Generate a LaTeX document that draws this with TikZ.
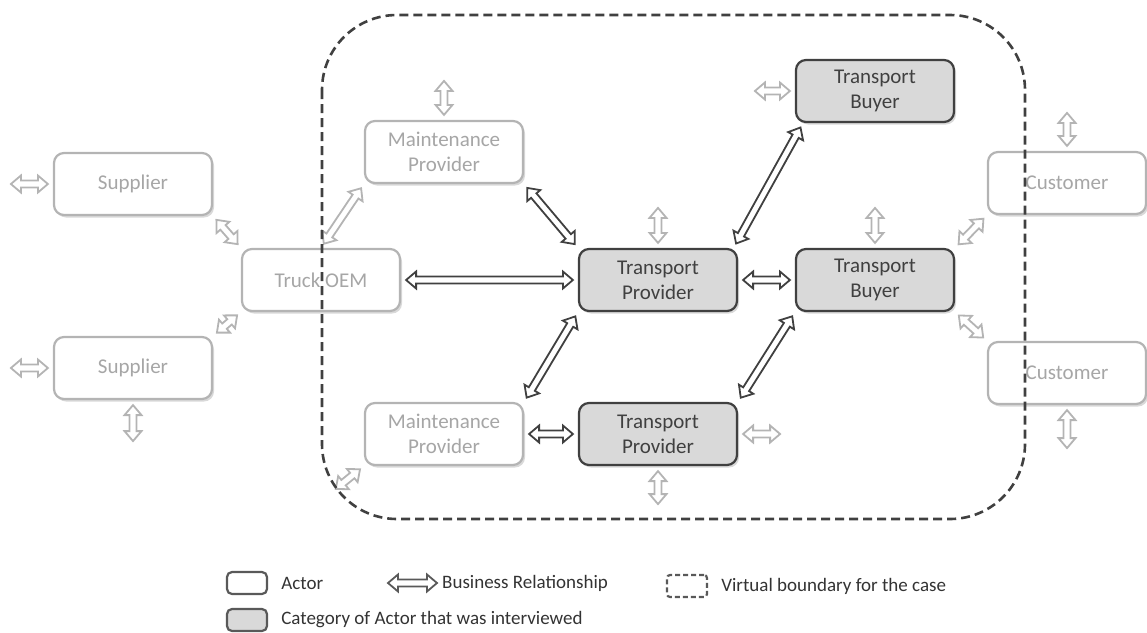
\documentclass[tikz,border=0pt]{standalone}
\usepackage{fontspec}
\setmainfont{Carlito}
\usetikzlibrary{positioning,shadows,calc}
\definecolor{darkline}{HTML}{404040}
\definecolor{lightline}{HTML}{B4B4B4}
\definecolor{lighttext}{HTML}{A6A6A6}
\definecolor{actorfill}{HTML}{D9D9D9}
\tikzset{
  actor/.style={draw=lightline, line width=2.2pt, rounded corners=10pt,
    minimum width=158pt, minimum height=62pt, align=center, text=lighttext,
    fill=white, font=\fontsize{21}{25}\selectfont,
    drop shadow={shadow xshift=2pt, shadow yshift=-2.5pt, opacity=0.3}},
  interviewed/.style={actor, draw=darkline, fill=actorfill, text=darkline},
  rel/.style={draw=darkline, fill=white, line width=1.8pt, line join=miter},
  lightrel/.style={rel, draw=lightline},
  boundary/.style={draw=darkline, line width=2.6pt, dash pattern=on 9pt off 5pt,
    rounded corners=75pt},
  legbox/.style={draw=black!65, line width=2.2pt, rounded corners=5pt,
    minimum width=40pt, minimum height=22pt, inner sep=0pt},
  legtext/.style={font=\fontsize{19}{22}\selectfont, text=black!80, inner sep=0pt}
}
% hollow two-headed block arrow between two named points
\newcommand\bizrel[3][rel]{%
  \coordinate (ra) at ($(#2)!5pt!(#3)$);
  \coordinate (rb) at ($(#3)!5pt!(#2)$);
  \draw[#1] (ra) -- ($(ra)!\headl!(rb)!\headw!90:(rb)$)
    -- ($(ra)!\headl!(rb)!\shaftw!90:(rb)$)
    -- ($(rb)!\headl!(ra)!\shaftw!-90:(ra)$)
    -- ($(rb)!\headl!(ra)!\headw!-90:(ra)$)
    -- (rb)
    -- ($(rb)!\headl!(ra)!\headw!90:(ra)$)
    -- ($(rb)!\headl!(ra)!\shaftw!90:(ra)$)
    -- ($(ra)!\headl!(rb)!\shaftw!-90:(rb)$)
    -- ($(ra)!\headl!(rb)!\headw!-90:(rb)$)
    -- cycle;
}

\begin{document}
\begin{tikzpicture}[x=1pt, y=-1pt]
      \def\headl{10pt}
      \def\headw{8.5pt}
      \def\shaftw{3.5pt}
      \useasboundingbox (0,0) rectangle (1147,632);

      % Actors
      \node[actor] (sup1) at (133,184) {Supplier};
      \node[actor] (sup2) at (133,368) {Supplier};
      \node[actor] (oem) at (321,280) {Truck OEM};
      \node[actor] (mpt) at (444,152) {Maintenance\\Provider};
      \node[actor] (mpb) at (444,434) {Maintenance\\Provider};
      \node[interviewed] (tpm) at (658,280) {Transport\\Provider};
      \node[interviewed] (tpb) at (658,434) {Transport\\Provider};
      \node[interviewed] (tbt) at (875,91) {Transport\\Buyer};
      \node[interviewed] (tbm) at (875,280) {Transport\\Buyer};
      \node[actor] (cut) at (1067,183) {Customer};
      \node[actor] (cub) at (1067,373) {Customer};

      % Relationships
      \bizrel[lightrel]{sup1.south east}{oem.north west}
      \bizrel[lightrel]{sup2.north east}{oem.south west}
      \bizrel[lightrel]{oem.north}{mpt.south west}
      \bizrel{mpt.south east}{tpm.north west}
      \bizrel{oem.east}{tpm.west}
      \bizrel{tpm.23}{tbt.204}
      \bizrel{tpm.east}{tbm.west}
      \bizrel{tpm.south west}{mpb.north east}
      \bizrel{tbm.south west}{tpb.north east}
      \bizrel{mpb.east}{tpb.west}
      \bizrel[lightrel]{tbm.north east}{cut.south west}
      \bizrel[lightrel]{tbm.south east}{cub.north west}

      % Open ends
      \coordinate[left=47pt of sup1.west] (sup1out);
      \coordinate[left=47pt of sup2.west] (sup2out);
      \coordinate[below=46pt of sup2.south] (sup2down);
      \coordinate[above=44pt of mpt.north] (mptout);
      \coordinate[above=45pt of tpm.north] (tpmout);
      \coordinate[left=45pt of tbt.west] (tbtout);
      \coordinate[above=45pt of tbm.north] (tbmout);
      \coordinate[above=43pt of cut.north] (cutout);
      \coordinate[below=48pt of cub.south] (cubout);
      \coordinate[right=47pt of tpb.east] (tpbout);
      \coordinate[below=43pt of tpb.south] (tpbdown);
      \coordinate (mpbout) at ($(mpb.south west)+(-32,26)$);
      \bizrel[lightrel]{sup1.west}{sup1out}
      \bizrel[lightrel]{sup2.west}{sup2out}
      \bizrel[lightrel]{sup2.south}{sup2down}
      \bizrel[lightrel]{mpt.north}{mptout}
      \bizrel[lightrel]{tpm.north}{tpmout}
      \bizrel[lightrel]{tbt.west}{tbtout}
      \bizrel[lightrel]{tbm.north}{tbmout}
      \bizrel[lightrel]{cut.north}{cutout}
      \bizrel[lightrel]{cub.south}{cubout}
      \bizrel[lightrel]{tpb.east}{tpbout}
      \bizrel[lightrel]{tpb.south}{tpbdown}
      \bizrel[lightrel]{mpb.south west}{mpbout}

      % Boundary of the case
      \draw[boundary] (322,15) rectangle (1025,519);

      % Legend
      \node[legbox] (lgactor) at (247,583) {};
      \node[legtext, right=13pt of lgactor] {Actor};
      \node[legbox, fill=actorfill] (lgint) at (247,620) {};
      \node[legtext, right=13pt of lgint] {Category of Actor that was interviewed};
      \coordinate (lgrela) at (383,583);
      \coordinate (lgrelb) at (442,583);
      \bizrel[rel, draw=black!65]{lgrela}{lgrelb}
      \node[legtext, right=0pt of lgrelb] {Business Relationship};
      \node[legbox, rounded corners=3pt, dash pattern=on 5pt off 3pt] (lgbound) at (687,586) {};
      \node[legtext, right=13pt of lgbound] {Virtual boundary for the case};
    \end{tikzpicture}
\end{document}
